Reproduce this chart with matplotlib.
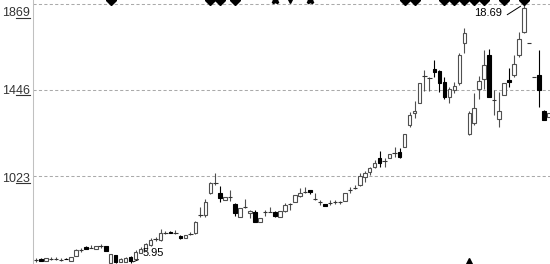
import numpy as np
import matplotlib
matplotlib.use('Agg')
import matplotlib.pyplot as plt
from matplotlib.lines import Line2D
from matplotlib.transforms import IdentityTransform

# daily candles, price * 100
opens = [610, 615, 605, 615, 613, 610, 616, 605, 629, 659,
         674, 669, 664, 678, 678, 597, 634, 600, 600, 624,
         615, 644, 659, 683, 713, 708, 742, 747, 742, 728,
         718, 737, 742, 831, 831, 939, 988, 939, 905, 919,
         885, 821, 870, 841, 846, 796, 846, 846, 846, 821,
         851, 885, 895, 924, 944, 954, 910, 895, 885, 890,
         895, 895, 900, 954, 964, 978, 1018, 1042, 1067, 1111,
         1097, 1111, 1136, 1141, 1165, 1274, 1333, 1382, 1515, 1505,
         1549, 1539, 1485, 1411, 1446, 1480, 1677, 1229, 1284, 1451,
         1500, 1618, 1397, 1303, 1421, 1495, 1520, 1618, 1731, 1677,
         1510, 1520, 1343, 1313]
highs = [619, 617, 621, 624, 622, 619, 619, 626, 664, 669,
         676, 683, 680, 688, 680, 641, 636, 617, 624, 627,
         659, 674, 693, 718, 723, 762, 752, 750, 757, 732,
         734, 745, 801, 870, 910, 993, 1037, 974, 921, 954,
         890, 867, 910, 856, 856, 818, 856, 870, 851, 853,
         890, 890, 931, 964, 969, 956, 939, 905, 887, 905,
         905, 902, 941, 969, 978, 1037, 1047, 1067, 1101, 1146,
         1111, 1133, 1165, 1160, 1229, 1338, 1392, 1482, 1544, 1510,
         1593, 1544, 1510, 1461, 1485, 1628, 1751, 1343, 1431, 1515,
         1643, 1648, 1446, 1436, 1482, 1554, 1618, 1731, 1869, 1677,
         1510, 1643, 1348, 1335]
lows = [600, 603, 603, 610, 608, 605, 612, 603, 627, 649,
        662, 668, 662, 669, 652, 596, 596, 598, 598, 595,
        610, 642, 657, 678, 703, 703, 737, 740, 737, 713,
        716, 732, 737, 821, 821, 934, 978, 895, 903, 900,
        826, 819, 865, 816, 794, 794, 826, 844, 821, 819,
        846, 856, 893, 919, 939, 934, 905, 880, 873, 880,
        887, 887, 898, 939, 959, 974, 993, 1028, 1062, 1067,
        1067, 1109, 1116, 1111, 1163, 1264, 1308, 1380, 1441, 1441,
        1510, 1436, 1402, 1382, 1431, 1471, 1628, 1224, 1274, 1402,
        1451, 1411, 1323, 1264, 1419, 1461, 1510, 1608, 1726, 1677,
        1510, 1362, 1298, 1311]
closes = [610, 605, 619, 615, 613, 610, 614, 624, 659, 659,
          664, 669, 678, 678, 654, 639, 598, 615, 619, 605,
          649, 664, 688, 708, 713, 742, 742, 742, 742, 718,
          732, 737, 796, 831, 895, 988, 988, 915, 919, 919,
          841, 865, 870, 851, 796, 816, 846, 846, 826, 851,
          880, 885, 929, 939, 944, 944, 910, 895, 875, 890,
          895, 895, 939, 954, 964, 1023, 1037, 1062, 1087, 1087,
          1097, 1131, 1136, 1116, 1229, 1323, 1343, 1480, 1515, 1505,
          1534, 1480, 1411, 1451, 1466, 1618, 1726, 1333, 1357, 1490,
          1569, 1411, 1397, 1343, 1480, 1485, 1574, 1697, 1849, 1677,
          1510, 1446, 1298, 1333]

ytick_vals = [1869, 1446, 1023]
ytick_labels = ['1869', '1446', '1023']

# event markers along the top / bottom edge (candle index)
diamond_idx = [15, 35, 37, 40, 74, 76, 82, 84, 86, 88, 90, 94, 98]
cross_idx = [48, 55]
tee_idx = [51]
tri_idx = [87]

UP = '#505050'

fig = plt.figure(figsize=(5.5, 2.64), dpi=100)
ax = fig.add_axes([33 / 550, 0, 517 / 550, 1])

o, h, l, c = map(np.array, (opens, highs, lows, closes))
x = np.arange(len(o))
up = c > o
down = c < o
flat = c == o

wick_col = np.where(down, 'black', UP)
ax.vlines(x, l, h, colors=wick_col, lw=0.8, zorder=2)
ax.bar(x[up], (c - o)[up], bottom=o[up], width=0.72, facecolor='white',
       edgecolor=UP, lw=0.8, zorder=3)
ax.bar(x[down], (o - c)[down], bottom=c[down], width=0.72, color='black',
       edgecolor='black', lw=0.8, zorder=3)
ax.hlines(c[flat], x[flat] - 0.45, x[flat] + 0.45, colors='#333333', lw=0.8, zorder=3)

ax.set_xlim(-0.6, 103.2)
ax.set_ylim(589.8, 1888.7)

for v in ytick_vals:
    ax.axhline(v, color='#aaaaaa', lw=0.75, ls=(0, (3, 2.2)), zorder=1)

for s in ['top', 'right', 'bottom']:
    ax.spines[s].set_visible(False)
ax.spines['left'].set_color('#c0c0c0')
ax.spines['left'].set_linewidth(0.75)
ax.set_xticks([])
ax.set_yticks([])

# top / bottom markers
xt = ax.get_xaxis_transform()
ax.plot(diamond_idx, [1.0] * len(diamond_idx), 'D', color='black', ms=5.5, transform=xt, clip_on=True, zorder=4)
ax.plot(cross_idx, [1.0] * len(cross_idx), 'X', color='black', ms=5, transform=xt, clip_on=True, zorder=4)
ax.plot(tee_idx, [1.0] * len(tee_idx), 'v', color='black', ms=5, transform=xt, clip_on=True, zorder=4)
ax.plot(tri_idx, [0.01] * len(tri_idx), '^', color='black', ms=4, transform=xt, clip_on=False, zorder=4)

# high / low annotations
top = int(np.argmax(h))
bot = int(np.argmin(l))
ax.annotate(f'{h[top] / 100:.2f}', xy=(top, h[top]), xytext=(-22, -9), textcoords='offset pixels',
            ha='right', va='center', fontsize=8, family='Liberation Sans',
            arrowprops=dict(arrowstyle='-', color='black', lw=0.7, shrinkA=2, shrinkB=3, relpos=(1, 0)))
ax.annotate(f'{l[bot] / 100:.2f}', xy=(bot, l[bot]), xytext=(12, 10), textcoords='offset pixels',
            ha='left', va='center', fontsize=8, family='Liberation Sans',
            arrowprops=dict(arrowstyle='-', color='black', lw=0.7, shrinkA=1, shrinkB=2, relpos=(0, 0)))

# y labels (the top one is pushed inside the figure)
yt = ax.get_yaxis_transform()
label_texts = []
for v, lab, dy in zip(ytick_vals, ytick_labels, [9, 1, 3]):
    t = ax.annotate(lab, xy=(0, v), xycoords=yt, xytext=(-3, -dy), textcoords='offset pixels',
                    ha='right', va='center', fontsize=9, color='#333333',
                    family='Liberation Sans', annotation_clip=False)
    label_texts.append(t)

fig.canvas.draw()
r = fig.canvas.get_renderer()
for t, lab in zip(label_texts, ytick_labels):
    bb = t.get_window_extent(r)
    w2 = bb.width * 2 / len(lab)
    y0 = bb.y0 + 1.5
    fig.add_artist(Line2D([bb.x1 - w2, bb.x1], [y0, y0], transform=IdentityTransform(),
                          color='#333333', lw=0.8))

fig.savefig('out.png', dpi=100, facecolor='white')
